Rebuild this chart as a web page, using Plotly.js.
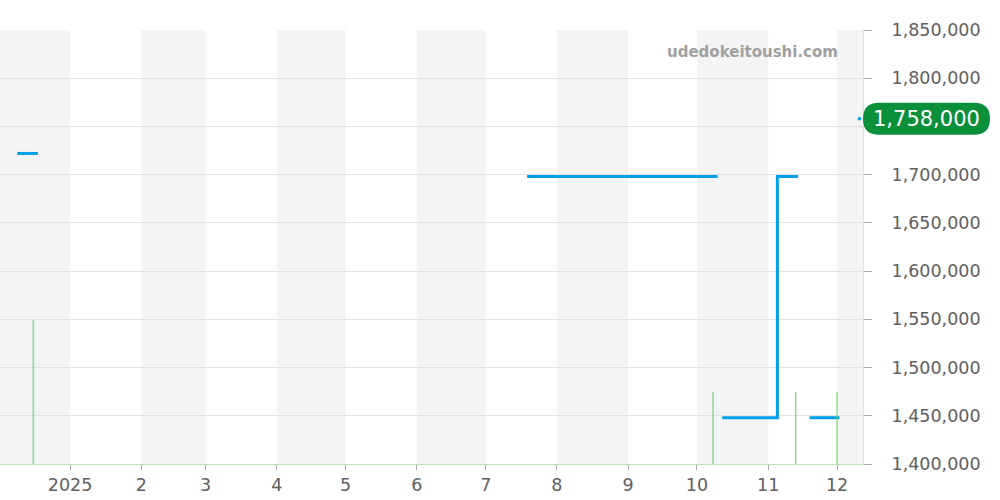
<!DOCTYPE html>
<html>
<head>
<meta charset="utf-8">
<script src="https://cdn.plot.ly/plotly-3.0.1.min.js"></script>
<style>html,body{margin:0;padding:0;background:#fff;}#chart{width:1000px;height:500px;}</style>
</head>
<body>
<div id="chart"></div>
<script>
// Price series (step line, null = gap)
const priceDates = [
  '2024-12-09', '2024-12-18', '2024-12-19',
  '2025-07-19', '2025-10-10', '2025-10-11',
  '2025-10-12', '2025-11-05', '2025-11-14', '2025-11-15',
  '2025-11-19', '2025-12-02', '2025-12-03',
  '2025-12-10', '2025-12-11 12:00'
];
const priceValues = [
  1722000, 1722000, null,
  1698000, 1698000, null,
  1448000, 1698000, 1698000, null,
  1448000, 1448000, null,
  1758000, 1758000
];
// Volume series
const volumeDates = ['2024-12-16', '2025-10-08', '2025-11-13', '2025-12-01'];
const volumeValues = [2, 1, 1, 1];
// Month bands and tick labels
const monthStarts = ['2024-12-01','2025-01-01','2025-02-01','2025-03-01','2025-04-01','2025-05-01','2025-06-01','2025-07-01','2025-08-01','2025-09-01','2025-10-01','2025-11-01','2025-12-01','2026-01-01'];
const tickDates = ['2025-01-01','2025-02-01','2025-03-01','2025-04-01','2025-05-01','2025-06-01','2025-07-01','2025-08-01','2025-09-01','2025-10-01','2025-11-01','2025-12-01'];
const tickLabels = ['2025','2','3','4','5','6','7','8','9','10','11','12'];
const yTicks = [1400000,1450000,1500000,1550000,1600000,1650000,1700000,1750000,1800000,1850000];
const watermark = 'udedokeitoushi.com';

const lastPrice = priceValues.filter(v => v !== null).slice(-1)[0];
const fmt = v => v.toLocaleString('en-US');

const shapes = [];
for (let i = 0; i < monthStarts.length - 1; i += 2) {
  shapes.push({type:'rect', xref:'x', yref:'paper', x0:monthStarts[i], x1:monthStarts[i+1], y0:0, y1:1,
    fillcolor:'#f4f4f4', line:{width:0}, layer:'below'});
}
shapes.push({type:'path', xref:'paper', xsizemode:'pixel', xanchor:1, yref:'y', ysizemode:'pixel', yanchor:lastPrice,
  path:'M 16,-16 H 111 Q 127,-16 127,0 Q 127,16 111,16 H 16 Q 0,16 0,0 Q 0,-16 16,-16 Z',
  fillcolor:'#0a8f3a', line:{width:0}, layer:'above'});

const traces = [
  {type:'bar', x:volumeDates, y:volumeValues, yaxis:'y2', width:60000000,
   marker:{color:'rgba(110,205,110,0.7)', line:{width:0}}, hoverinfo:'skip'},
  {type:'scatter', mode:'lines', x:priceDates, y:priceValues, line:{color:'#00a0e9', width:3, shape:'hv'},
   connectgaps:false}
];

// the tick hidden under the price label shows no text
const yTickText = yTicks.map(v => (Math.abs(v - lastPrice) < 12000 ? '' : fmt(v)));

const layout = {
  width:1000, height:500,
  margin:{l:0, r:137, t:30, b:36},
  paper_bgcolor:'#fff', plot_bgcolor:'rgba(0,0,0,0)',
  showlegend:false,
  font:{family:'DejaVu Sans, sans-serif', color:'#606060', size:17.5},
  xaxis:{type:'date', range:['2024-12-01 12:00','2025-12-12 07:00'], tickvals:tickDates, ticktext:tickLabels,
    showgrid:false, zeroline:false, showline:true, linecolor:'rgba(120,205,120,0.55)', linewidth:1,
    ticks:'outside', ticklen:5, tickcolor:'#aaa', tickfont:{size:17.5, color:'#606060'}, fixedrange:true},
  yaxis:{side:'right', range:[1400000,1850000], tickvals:yTicks, ticktext:yTickText,
    showgrid:true, gridcolor:'#e2e2e2', zeroline:false, showline:true, linecolor:'#ddd',
    ticks:'outside', ticklen:8, tickcolor:'#aaa', ticklabelstandoff:16, tickfont:{size:17.5, color:'#606060'}},
  yaxis2:{overlaying:'y', range:[0,6.03], visible:false, showgrid:false, zeroline:false},
  shapes:shapes,
  annotations:[
    {xref:'paper', yref:'y', x:1, y:lastPrice, xanchor:'center', yanchor:'middle', xshift:63.5,
     text:fmt(lastPrice), showarrow:false, font:{size:21, color:'#fff', family:'DejaVu Sans, sans-serif'}},
    {xref:'paper', yref:'paper', x:0.9733, y:0.949, xanchor:'right', yanchor:'middle', text:'<b>'+watermark+'</b>',
     showarrow:false, font:{size:15, color:'#a0a0a0', family:'DejaVu Sans, sans-serif'}}
  ]
};

Plotly.newPlot('chart', traces, layout, {displayModeBar:false, staticPlot:true});
</script>
</body>
</html>
